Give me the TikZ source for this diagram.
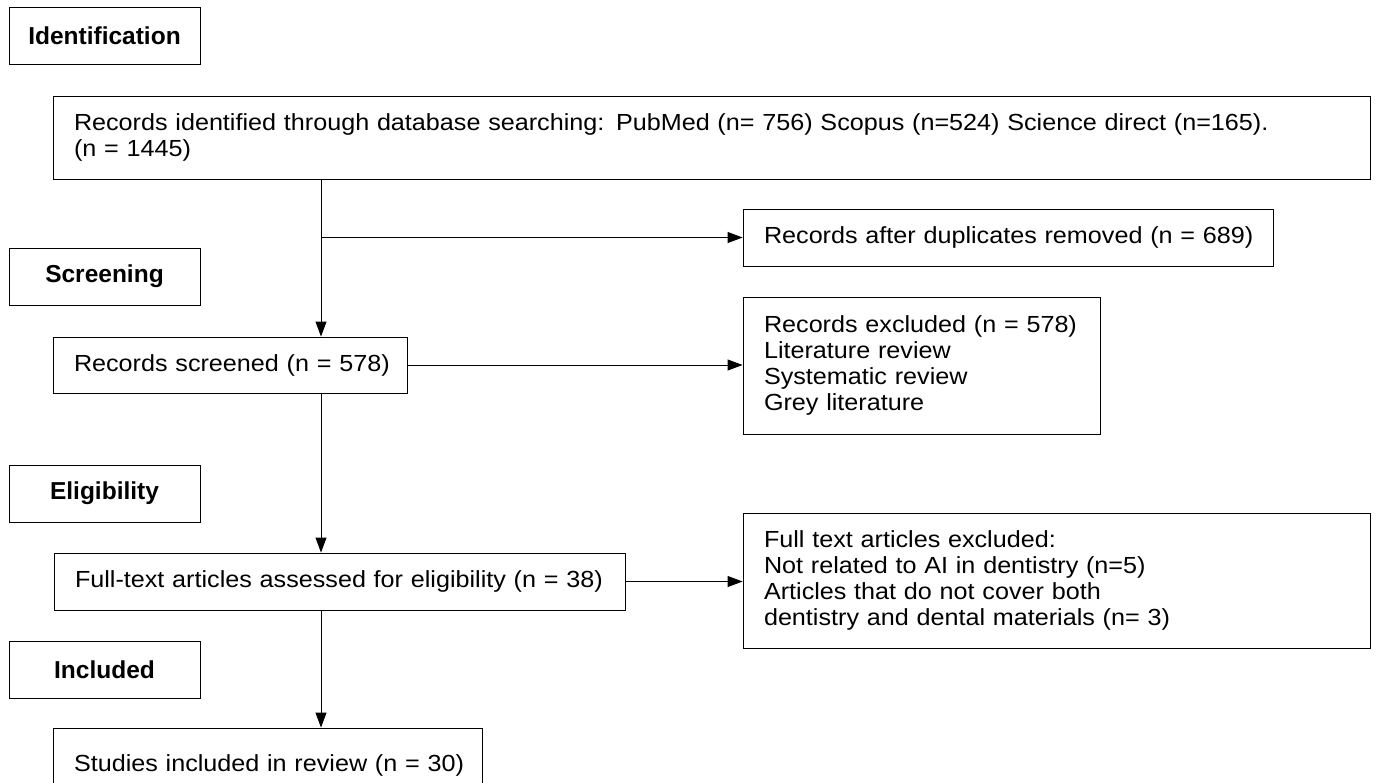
\documentclass[tikz,border=0pt]{standalone}
\usepackage{fontspec}
\setmainfont{Liberation Sans}
\newfontfamily\bodyfont[FakeStretch=1.08]{Liberation Sans}
\usetikzlibrary{arrows.meta}
\tikzset{
  box/.style={draw, line width=0.9pt, inner xsep=21pt, inner ysep=0pt, align=left,
    font=\bodyfont\fontsize{23.3}{26}\selectfont},
  hdr/.style={draw, line width=0.9pt, minimum width=191pt, minimum height=57pt,
    inner sep=0pt, align=center, font=\fontsize{24.5}{28}\selectfont\bfseries},
  arr/.style={line width=0.9pt, -{Triangle[length=15pt,width=11pt]}}
}
\begin{document}
\begin{tikzpicture}[x=1pt,y=-1pt]
\useasboundingbox (0,0) rectangle (1376,782);
% stage headers
\node[hdr] (ident) at (104.5,35.5) {Identification};
\node[hdr] (screen) at (104.5,276.5) {Screening};
\node[hdr] (elig) at (104.5,493.5) {Eligibility};
\node[hdr] (incl) at (104.5,669.5) {Included};
% flow boxes
\node[box, minimum width=1317pt, minimum height=83pt, text width=1275pt] (rec) at (711.5,137.5)
  {\mbox{Records identified through database searching: PubMed (n= 756) Scopus (n=524) Science direct (n=165).}\\\mbox{(n = 1445)}};
\node[box, minimum width=530pt, minimum height=57pt, text width=488pt] (dup) at (1008,237.5)
  {\mbox{Records after duplicates removed (n = 689)}};
\node[box, minimum width=354pt, minimum height=56pt, text width=312pt] (scr) at (230,365)
  {\mbox{Records screened (n = 578)}};
\node[box, minimum width=357pt, minimum height=137pt, text width=315pt] (excl) at (921.5,365.5)
  {\mbox{Records excluded (n = 578)}\\\mbox{Literature review}\\\mbox{Systematic review}\\\mbox{Grey literature}};
\node[box, minimum width=571pt, minimum height=57pt, text width=529pt] (full) at (339.5,581.5)
  {\mbox{Full-text articles assessed for eligibility (n = 38)}};
\node[box, minimum width=627pt, minimum height=135pt, text width=585pt] (fexcl) at (1056.5,580.5)
  {\mbox{Full text articles excluded:}\\\mbox{Not related to AI in dentistry (n=5)}\\\mbox{Articles that do not cover both}\\\mbox{dentistry and dental materials (n= 3)}};
\node[box, minimum width=429pt, minimum height=74pt, text width=387pt] (stud) at (267.5,765)
  {\mbox{Studies included in review (n = 30)}};
% connectors
\coordinate (spine) at (321,0);
\draw[arr] (rec.south -| spine) -- (scr.north -| spine);
\draw[arr] (spine |- dup.west) -- (dup.west);
\draw[arr] (scr.east) -- (scr.east -| excl.west);
\draw[arr] (scr.south -| spine) -- (full.north -| spine);
\draw[arr] (full.east) -- (full.east -| fexcl.west);
\draw[arr] (full.south -| spine) -- (stud.north -| spine);
\end{tikzpicture}
\end{document}
